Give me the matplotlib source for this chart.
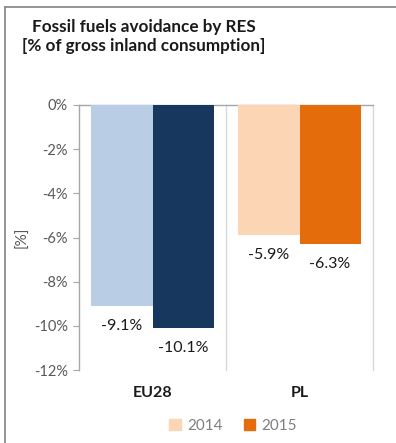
import matplotlib.pyplot as plt
import numpy as np
from matplotlib.patches import Patch
from matplotlib.lines import Line2D

plt.rcParams['font.family'] = ['Lato', 'DejaVu Sans']

# data
regions = ["EU28", "PL"]
years = ["2014", "2015"]
vals_2014 = [-9.1, -5.9]
vals_2015 = [-10.1, -6.3]
colors_2014 = ["#B9CDE5", "#FCD5B5"]
colors_2015 = ["#17375E", "#E46C0A"]
yticks = [0, -2, -4, -6, -8, -10, -12]

fig = plt.figure(figsize=(3.96, 4.43), dpi=100)
ax = fig.add_axes([79 / 396, 1 - 370 / 443, (373 - 79) / 396, (370 - 105) / 443])

x = np.arange(len(regions))
w = 0.415
b1 = ax.bar(x - w / 2, vals_2014, w, color=colors_2014, zorder=3)
b2 = ax.bar(x + w / 2, vals_2015, w, color=colors_2015, zorder=3)

# value labels under the bar ends
for bars, vals in ((b1, vals_2014), (b2, vals_2015)):
    for rect, v in zip(bars, vals):
        ax.annotate(f"{v:.1f}%", (rect.get_x() + rect.get_width() / 2, v),
                    xytext=(0, -20), textcoords="offset pixels",
                    ha="center", va="center", fontsize=11.5, color="#1a1a1a")

ax.set_xlim(-0.5, 1.5)
ax.set_ylim(-12, 0)
ax.set_yticks(yticks)
ax.set_yticklabels([f"{t}%" for t in yticks], color="#595959", fontsize=10.5)
ax.tick_params(axis="y", length=4, color="#A6A6A6", pad=4)
ax.set_xticks([])

for s in ("bottom", "right"):
    ax.spines[s].set_visible(False)
for s in ("left", "top"):
    ax.spines[s].set_color("#A6A6A6")
    ax.spines[s].set_linewidth(1)

# category separators
for xv in (0.5, 1.5):
    ax.axvline(xv, color="#D9D9D9", lw=1, zorder=1, clip_on=False)

ax.set_ylabel("[%]", color="#595959", fontsize=11)
ax.yaxis.set_label_coords(-0.17, 0.5)

for xi, name in zip(x, regions):
    fig.text((79 + (xi + 0.5) * 147) / 396, 1 - 393 / 443, name,
             ha="center", va="center", fontsize=11.5, fontweight="bold", color="#1a1a1a")

fig.text(144 / 396, 1 - 27 / 443, "Fossil fuels avoidance by RES",
         ha="center", va="center", fontsize=12.3, fontweight="bold", color="#1a1a1a")
fig.text(144 / 396, 1 - 46 / 443, "[% of gross inland consumption]",
         ha="center", va="center", fontsize=12.3, fontweight="bold", color="#1a1a1a")

handles = [Patch(color=colors_2014[1]), Patch(color=colors_2015[1])]
fig.legend(handles, years, loc="center", bbox_to_anchor=(233 / 396, 1 - 426 / 443),
           ncol=2, frameon=False, fontsize=11, handlelength=0.75, handleheight=0.75,
           handletextpad=0.4, columnspacing=1.4, labelcolor="#7F7F7F")

# outer frame (top and left edges)
fig.add_artist(Line2D([5 / 396, 1], [1 - 7 / 443, 1 - 7 / 443], color="#8C8C8C", lw=1.3))
fig.add_artist(Line2D([5 / 396, 5 / 396], [0, 1 - 7 / 443], color="#8C8C8C", lw=1.3))

fig.savefig("out.png", dpi=100)
